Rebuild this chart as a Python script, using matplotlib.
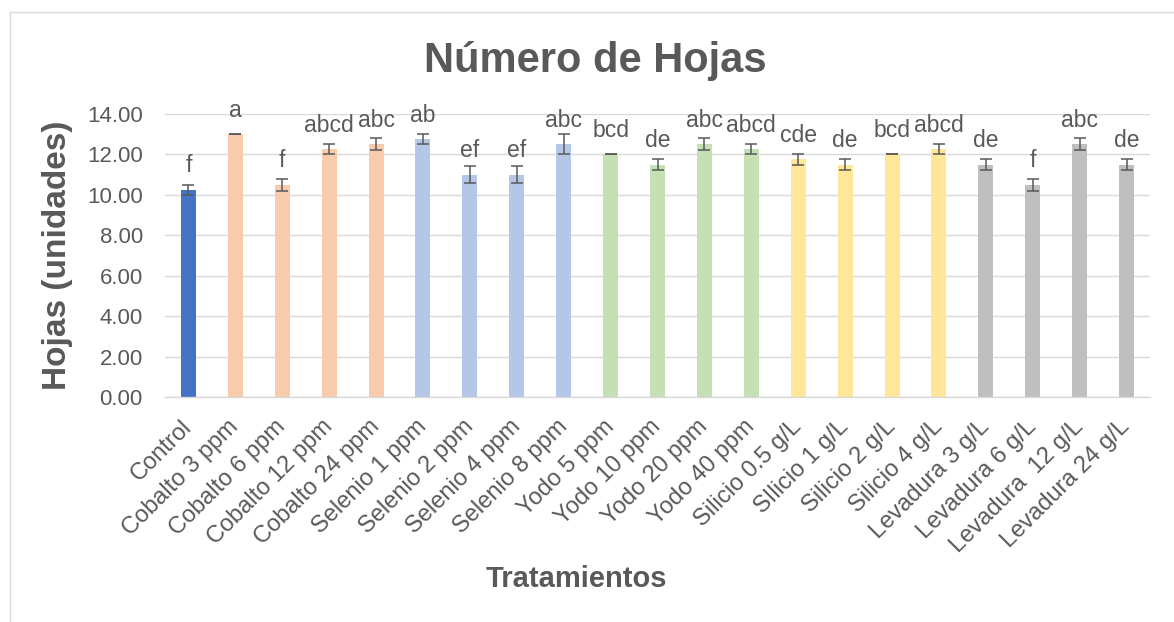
import numpy as np
import matplotlib
matplotlib.use('Agg')
import matplotlib.pyplot as plt
from matplotlib.patches import Rectangle

plt.rcParams['font.family'] = ['Liberation Sans', 'DejaVu Sans']

# data
tratamientos = ['Control', 'Cobalto 3 ppm', 'Cobalto 6 ppm', 'Cobalto 12 ppm', 'Cobalto 24 ppm',
                'Selenio 1 ppm', 'Selenio 2 ppm', 'Selenio 4 ppm', 'Selenio 8 ppm',
                'Yodo 5 ppm', 'Yodo 10 ppm', 'Yodo 20 ppm', 'Yodo 40 ppm',
                'Silicio 0.5 g/L', 'SIlicio 1 g/L', 'Silicio 2 g/L', 'Silicio 4 g/L',
                'Levadura 3 g/L', 'Levadura 6 g/L', 'Levadura  12 g/L', 'Levadura 24 g/L']
hojas = [10.25, 13.0, 10.5, 12.25, 12.5,
         12.75, 11.0, 11.0, 12.5,
         12.0, 11.5, 12.5, 12.25,
         11.75, 11.5, 12.0, 12.25,
         11.5, 10.5, 12.5, 11.5]
error = [0.25, 0.0, 0.29, 0.25, 0.29,
         0.25, 0.41, 0.41, 0.5,
         0.0, 0.29, 0.29, 0.25,
         0.25, 0.29, 0.0, 0.25,
         0.29, 0.29, 0.29, 0.29]
letras = ['f', 'a', 'f', 'abcd', 'abc',
          'ab', 'ef', 'ef', 'abc',
          'bcd', 'de', 'abc', 'abcd',
          'cde', 'de', 'bcd', 'abcd',
          'de', 'f', 'abc', 'de']
grupos = ['Control'] + ['Cobalto'] * 4 + ['Selenio'] * 4 + ['Yodo'] * 4 + ['Silicio'] * 4 + ['Levadura'] * 4

colores_grupo = {'Control': '#4472C4', 'Cobalto': '#F8CBAD', 'Selenio': '#B4C7E7',
                 'Yodo': '#C5E0B4', 'Silicio': '#FFE699', 'Levadura': '#BFBFBF'}
gris = '#595959'

W, H = 1174, 622
fig = plt.figure(figsize=(W / 100, H / 100), dpi=100)
ax = fig.add_axes([165 / W, 1 - 397 / H, (1150 - 165) / W, (397 - 114) / H])

x = np.arange(len(tratamientos))
ax.bar(x, hojas, width=0.32, color=[colores_grupo[g] for g in grupos], zorder=2)
ax.errorbar(x, hojas, yerr=error, fmt='none', ecolor=gris, elinewidth=1.1,
            capsize=4.3, capthick=1.1, zorder=3)

for xi, v, l in zip(x, hojas, letras):
    ax.annotate(l, (xi, v), xytext=(0, 12.5), textcoords='offset points',
                ha='center', va='baseline', fontsize=16.5, color=gris, annotation_clip=False)

ax.set_xlim(-0.5, len(tratamientos) - 0.5)
ax.set_ylim(0, 14)
ax.set_yticks(np.arange(0, 14.01, 2))
ax.set_yticklabels([f'{t:.2f}' for t in np.arange(0, 14.01, 2)])
ax.set_xticks(x)
ax.set_xticklabels(tratamientos, rotation=45, ha='right', va='center', rotation_mode='anchor')
ax.tick_params(axis='y', length=0, pad=16, labelsize=16, labelcolor=gris)
ax.tick_params(axis='x', length=0, pad=19, labelsize=17, labelcolor=gris)
ax.grid(axis='y', color='#D9D9D9', linewidth=1.0, zorder=0)
for s in ['top', 'right', 'left']:
    ax.spines[s].set_visible(False)
ax.spines['bottom'].set_color('#D9D9D9')
ax.spines['bottom'].set_linewidth(1.0)

ax.set_ylabel('Hojas (unidades)', fontsize=24, fontweight='bold', color=gris)
ax.yaxis.set_label_coords((73 - 165) / (1150 - 165), 0.5)

fig.text(595 / W, 1 - 72 / H, 'Número de Hojas', ha='center', va='baseline',
         fontsize=30, fontweight='bold', color=gris)
fig.text(576 / W, 1 - 587 / H, 'Tratamientos', ha='center', va='baseline',
         fontsize=21, fontweight='bold', color=gris)

# chart area border
fig.patches.append(Rectangle((9.5 / W, -0.1), 1.2, (H - 11.5) / H + 0.1,
                             transform=fig.transFigure, fill=False,
                             edgecolor='#D9D9D9', linewidth=1.0))

fig.savefig('out.png', dpi=100)
